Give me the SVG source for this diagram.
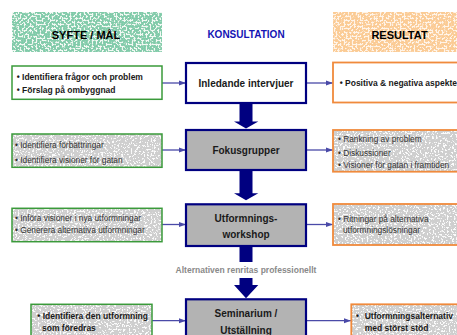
<svg xmlns="http://www.w3.org/2000/svg" width="457" height="335" viewBox="0 0 457 335">
<style>
text{font-family:"Liberation Sans",Arial,Helvetica,sans-serif}
.hdr{font-size:11px;font-weight:bold;fill:#000;text-anchor:middle}
.kons{font-size:10px;font-weight:bold;fill:#1414b4;text-anchor:middle}
.cbox{stroke:#000080;stroke-width:2.2}
.ctext{font-size:10px;font-weight:bold;fill:#1a1a1a;text-anchor:middle}
.gline{fill:none;stroke:#3a9a3a;stroke-width:1.5}
.oline{fill:none;stroke:#f08a3c;stroke-width:1.8}
.bt{font-size:8.5px;font-weight:bold;fill:#1a1a1a}
.rt{font-size:8.3px;fill:#333}
.conn{stroke:#4a4aa8;stroke-width:1.3;fill:none;marker-end:url(#ah)}
.blk{fill:#000080}
.note{font-size:8.5px;font-weight:bold;fill:#8a8a8a;text-anchor:middle}
</style>
<defs>
<marker id="ah" markerUnits="userSpaceOnUse" markerWidth="8" markerHeight="6" refX="7" refY="3" orient="auto">
<path d="M0,0.5 L7,3 L0,5.5 Z" fill="#4a4aa8"/>
</marker>
<filter id="txg" x="0" y="0" width="1" height="1">
<feTurbulence type="fractalNoise" baseFrequency="0.55" numOctaves="2" seed="4" result="n"/>
<feColorMatrix in="n" type="matrix" values="0 0 0 0 0.62 0 0 0 0 0.62 0 0 0 0 0.62 16 0 0 0 -8" result="s1"/>
<feColorMatrix in="n" type="matrix" values="0 0 0 0 0.97 0 0 0 0 0.97 0 0 0 0 0.97 0 -16 0 0 7" result="s2"/>
<feFlood flood-color="#cfcfcf" result="bg"/>
<feMerge><feMergeNode in="bg"/><feMergeNode in="s1"/><feMergeNode in="s2"/></feMerge>
</filter>
<filter id="txgr" x="0" y="0" width="1" height="1">
<feTurbulence type="fractalNoise" baseFrequency="0.5" numOctaves="2" seed="7" result="n"/>
<feColorMatrix in="n" type="matrix" values="0 0 0 0 0.22 0 0 0 0 0.6 0 0 0 0 0.4 16 0 0 0 -7.1" result="s1"/>
<feFlood flood-color="#f2f9f4" result="bg"/>
<feMerge><feMergeNode in="bg"/><feMergeNode in="s1"/></feMerge>
</filter>
<filter id="txor" x="0" y="0" width="1" height="1">
<feTurbulence type="fractalNoise" baseFrequency="0.5" numOctaves="2" seed="11" result="n"/>
<feColorMatrix in="n" type="matrix" values="0 0 0 0 0.96 0 0 0 0 0.6 0 0 0 0 0.3 16 0 0 0 -7.1" result="s1"/>
<feFlood flood-color="#fff4e8" result="bg"/>
<feMerge><feMergeNode in="bg"/><feMergeNode in="s1"/></feMerge>
</filter>
</defs>
<rect width="457" height="335" fill="#fff"/>

<g id="hdr-syfte">
<rect x="12" y="12" width="150" height="40" fill="#5a5" filter="url(#txgr)"/>
<text class="hdr" x="86" y="39">SYFTE / MÅL</text>
</g>
<g id="hdr-konsultation">
<text class="kons" x="246" y="37.5">KONSULTATION</text>
</g>
<g id="hdr-resultat">
<rect x="333" y="12" width="132" height="40" fill="#fa5" filter="url(#txor)"/>
<text class="hdr" x="399.5" y="39">RESULTAT</text>
</g>

<g id="connectors">
<line class="conn" x1="162" y1="83" x2="186" y2="83"/>
<line class="conn" x1="306" y1="83" x2="333" y2="83"/>
<line class="conn" x1="162" y1="150" x2="186" y2="150"/>
<line class="conn" x1="306" y1="150" x2="333" y2="150"/>
<line class="conn" x1="162" y1="224.5" x2="186" y2="224.5"/>
<line class="conn" x1="306" y1="224.5" x2="333" y2="224.5"/>
<line class="conn" x1="152" y1="320.7" x2="186" y2="320.7"/>
<line class="conn" x1="306" y1="320.7" x2="351" y2="320.7"/>
<path class="blk" d="M239.5,104 H252.5 V121.5 H258.3 L246,128.5 L234,121.5 H239.5 Z"/>
<path class="blk" d="M239.5,171 H252.5 V193.3 H258.3 L246,200.3 L234,193.3 H239.5 Z"/>
<rect class="blk" x="239.5" y="247" width="13" height="15"/>
<path class="blk" d="M239.5,278 H252.5 V285 H258.3 L246,298.3 L234,285 H239.5 Z"/>
<text class="note" x="246" y="273">Alternativen renritas professionellt</text>
</g>

<g id="box-inledande">
<rect class="cbox" x="186" y="63" width="120" height="40" fill="#fff"/>
<text class="ctext" x="246" y="86.8">Inledande intervjuer</text>
</g>
<g id="box-fokus">
<rect class="cbox" x="186" y="130" width="120" height="40" fill="#b3b3b3"/>
<text class="ctext" x="246" y="153.8">Fokusgrupper</text>
</g>
<g id="box-workshop">
<rect class="cbox" x="186" y="204.3" width="120" height="41.7" fill="#b3b3b3"/>
<text class="ctext" x="246" y="221.8">Utformnings-</text>
<text class="ctext" x="246" y="237.6">workshop</text>
</g>
<g id="box-seminarium">
<rect class="cbox" x="186" y="299.3" width="120" height="45" fill="#b3b3b3"/>
<text class="ctext" x="246" y="316.8">Seminarium /</text>
<text class="ctext" x="246" y="333.5">Utställning</text>
</g>

<g id="syfte-1">
<rect class="gline" x="12" y="66" width="150" height="33.3" fill="#fff"/>
<text class="bt" x="16.7" y="80.3">• Identifiera frågor och problem</text>
<text class="bt" x="16.7" y="93">• Förslag på ombyggnad</text>
</g>
<g id="syfte-2">
<rect x="12" y="134" width="150" height="33.3" fill="#bbb" filter="url(#txg)"/>
<rect class="gline" x="12" y="134" width="150" height="33.3"/>
<text class="rt" x="15" y="148">• Identifiera förbättringar</text>
<text class="rt" x="15" y="163">• Identifiera visioner för gatan</text>
</g>
<g id="syfte-3">
<rect x="12" y="208.3" width="150" height="33.4" fill="#bbb" filter="url(#txg)"/>
<rect class="gline" x="12" y="208.3" width="150" height="33.4"/>
<text class="rt" x="15" y="221.3">• Införa visioner i nya utformningar</text>
<text class="rt" x="15" y="233">• Generera alternativa utformningar</text>
</g>
<g id="syfte-4">
<rect x="31" y="304.3" width="121" height="40" fill="#bbb" filter="url(#txg)"/>
<rect class="gline" x="31" y="304.3" width="121" height="40"/>
<text class="bt" x="37.3" y="318.7">• Identifiera den utformning</text>
<text class="bt" x="42" y="330.7">som föredras</text>
</g>

<g id="resultat-1">
<rect class="oline" x="333" y="62.5" width="132" height="40" fill="#fff"/>
<text class="bt" x="339.7" y="86">• Positiva &amp; negativa aspekter</text>
</g>
<g id="resultat-2">
<rect x="333" y="130" width="132" height="41.7" fill="#bbb" filter="url(#txg)"/>
<rect class="oline" x="333" y="130" width="132" height="41.7"/>
<text class="rt" x="338" y="142">• Rankning av problem</text>
<text class="rt" x="338" y="155.7">• Diskussioner</text>
<text class="rt" x="338" y="168">• Visioner för gatan i framtiden</text>
</g>
<g id="resultat-3">
<rect x="333" y="204" width="132" height="41" fill="#bbb" filter="url(#txg)"/>
<rect class="oline" x="333" y="204" width="132" height="41"/>
<text class="rt" x="338" y="222.3">• Ritningar på alternativa</text>
<text class="rt" x="343" y="233">utformningslösningar</text>
</g>
<g id="resultat-4">
<rect x="351.3" y="304.3" width="120" height="40" fill="#bbb" filter="url(#txg)"/>
<rect class="oline" x="351.3" y="304.3" width="120" height="40"/>
<text class="bt" x="356" y="318.7">•</text>
<text class="bt" x="364.7" y="318.7">Utformningsalternativ</text>
<text class="bt" x="364.7" y="330.7">med störst stöd</text>
</g>
</svg>
